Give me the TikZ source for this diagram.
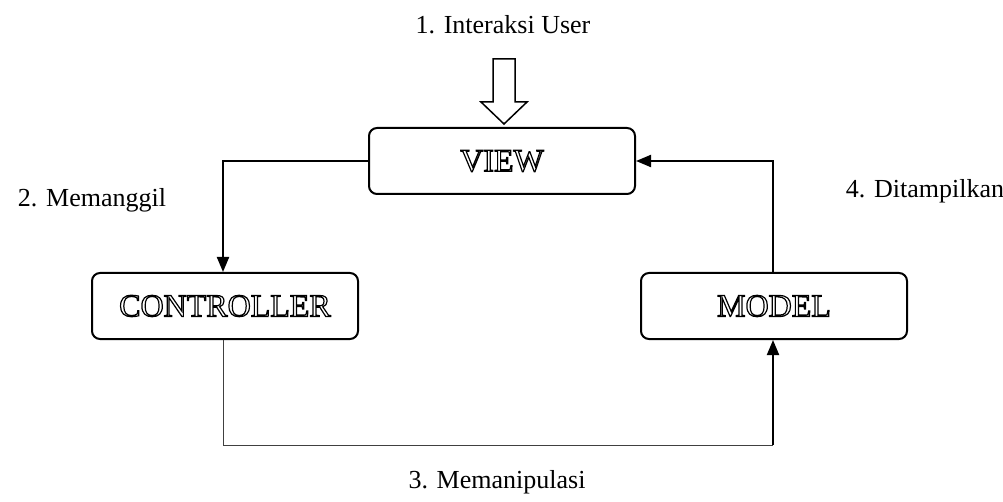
\documentclass[tikz,border=0pt]{standalone}
\usepackage{fontspec}
\setmainfont{Liberation Serif}
\usetikzlibrary{arrows.meta}
% hollow (stroked) lettering for the box titles
\newcommand{\hollow}[1]{\special{pdf:literal direct 1 Tr 1.2 w}#1\special{pdf:literal direct 0 Tr}}
\tikzset{
  box/.style={draw, line width=2pt, rounded corners=8pt, minimum width=266pt,
    minimum height=66pt, font=\fontsize{32}{32}\selectfont, inner sep=0pt},
  lbl/.style={font=\fontsize{26}{26}\selectfont, inner sep=0pt},
  link/.style={line width=2pt, -{Triangle[length=15pt,width=12pt]}},
  thin link/.style={line width=1pt, draw=black!75}
}
\begin{document}
\begin{tikzpicture}[x=1pt, y=-1pt]
\useasboundingbox (0,0) rectangle (1003,502);
% boxes
\node[box] (view) at (502,161) {\hollow{VIEW}};
\node[box] (ctrl) at (225,306) {\hollow{CONTROLLER}};
\node[box] (model) at (774,306) {\hollow{MODEL}};
% labels
\node[lbl] (l1) at (503,25) {1. Interaksi User};
\node[lbl] (l2) at (92,200) {2. Memanggil};
\node[lbl] (l4) at (925,191) {4. Ditampilkan};
\node[lbl] (l3) at (497,482) {3. Memanipulasi};
% block arrow for the user interaction
\coordinate (tip) at (504,124);
\draw[line width=1.5pt, line join=miter, fill=white]
  (493,59) -- (515,59) -- (515,102) -- (527,102) -- (tip) -- (481,102) -- (493,102) -- cycle;
% connectors
\draw[link] (view.west |- 0,161) -| (ctrl.north -| 223,0);
\draw[link] (model.north -| 773,0) |- (view.east);
\coordinate (c3) at (223,445);
\draw[thin link] (ctrl.south -| 223,0) -- (c3) -- (773,445);
\draw[link] (773,445) -- (model.south -| 773,0);
\end{tikzpicture}
\end{document}
